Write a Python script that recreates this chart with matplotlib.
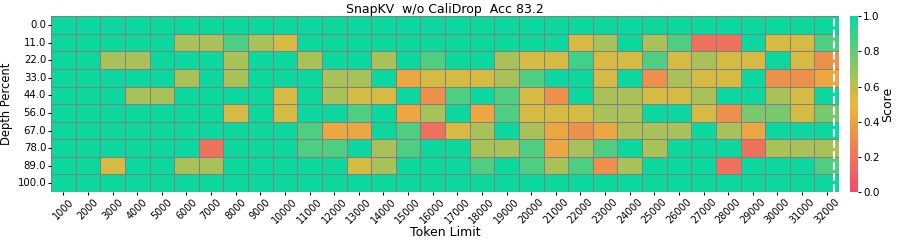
import numpy as np
import pandas as pd
import seaborn as sns
import matplotlib.pyplot as plt
from matplotlib.colors import LinearSegmentedColormap

# token limits (columns) and needle depths (rows)
token_limits = list(range(1000, 33000, 1000))
depths = [0.0, 11.0, 22.0, 33.0, 44.0, 56.0, 67.0, 78.0, 89.0, 100.0]

# scores, one list per depth row
row_0 = [1.0] * 32
row_11 = [1.0, 1.0, 1.0, 1.0, 1.0, 0.65, 0.65, 0.85, 0.65, 0.55, 1.0, 1.0, 1.0, 1.0, 1.0, 1.0,
          1.0, 1.0, 1.0, 1.0, 1.0, 0.55, 0.65, 1.0, 0.65, 0.85, 0.18, 0.18, 1.0, 0.55, 0.55, 0.85]
row_22 = [1.0, 1.0, 0.65, 0.65, 1.0, 1.0, 1.0, 0.65, 1.0, 1.0, 0.65, 1.0, 1.0, 0.65, 1.0, 0.85,
          1.0, 1.0, 0.65, 0.55, 0.55, 0.88, 0.55, 0.55, 0.85, 0.55, 0.65, 0.55, 0.55, 1.0, 0.55, 0.32]
row_33 = [1.0, 1.0, 1.0, 1.0, 1.0, 0.65, 1.0, 0.65, 1.0, 1.0, 1.0, 0.65, 0.65, 1.0, 0.42, 0.55,
          0.55, 0.55, 0.65, 0.85, 1.0, 1.0, 0.55, 1.0, 0.32, 0.65, 0.55, 0.55, 1.0, 0.32, 0.32, 0.42]
row_44 = [1.0, 1.0, 1.0, 0.65, 0.65, 1.0, 1.0, 1.0, 1.0, 0.55, 1.0, 0.65, 0.55, 0.55, 1.0, 0.32,
          0.85, 1.0, 0.85, 0.55, 0.32, 1.0, 0.65, 0.65, 0.55, 0.55, 0.65, 1.0, 1.0, 0.65, 0.55, 1.0]
row_56 = [1.0, 1.0, 1.0, 1.0, 1.0, 1.0, 1.0, 0.55, 1.0, 0.55, 1.0, 1.0, 0.85, 1.0, 0.42, 0.65,
          1.0, 0.42, 0.85, 0.55, 0.55, 0.55, 0.65, 0.65, 1.0, 1.0, 0.55, 0.32, 0.75, 0.75, 0.55, 0.75]
row_67 = [1.0, 1.0, 1.0, 1.0, 1.0, 1.0, 1.0, 1.0, 1.0, 1.0, 0.85, 0.42, 0.42, 1.0, 0.85, 0.18,
          0.55, 0.65, 1.0, 0.65, 0.42, 0.32, 0.42, 0.65, 0.65, 0.65, 1.0, 0.65, 0.42, 1.0, 1.0, 1.0]
row_78 = [1.0, 1.0, 1.0, 1.0, 1.0, 1.0, 0.18, 1.0, 1.0, 1.0, 0.85, 0.85, 1.0, 0.65, 0.85, 1.0,
          1.0, 0.65, 0.65, 0.85, 0.42, 0.65, 0.85, 1.0, 0.65, 1.0, 1.0, 1.0, 0.18, 0.65, 0.65, 0.65]
row_89 = [1.0, 1.0, 0.55, 1.0, 1.0, 0.65, 0.65, 1.0, 1.0, 1.0, 1.0, 1.0, 0.55, 0.65, 1.0, 1.0,
          1.0, 0.85, 1.0, 0.85, 0.65, 0.85, 0.32, 0.65, 1.0, 1.0, 1.0, 0.18, 1.0, 1.0, 1.0, 0.85]
row_100 = [1.0] * 32

scores = pd.DataFrame([row_0, row_11, row_22, row_33, row_44, row_56, row_67, row_78, row_89, row_100],
                      index=depths, columns=token_limits)

cmap = LinearSegmentedColormap.from_list("niah", ["#F0496E", "#EBB839", "#0CD79F"])

fig = plt.figure(figsize=(8.97, 2.41), dpi=100)
ax = fig.add_axes([0.0569, 0.203, 0.8785, 0.730])
cax = fig.add_axes([0.9476, 0.203, 0.0092, 0.730])

sns.heatmap(scores, ax=ax, cbar_ax=cax, cmap=cmap, vmin=0, vmax=1,
            linewidths=0.5, linecolor="grey")

ax.axvline(31.8, color="white", linestyle="--", linewidth=1.5)

ax.set_title("SnapKV  w/o CaliDrop  Acc 83.2", fontsize=9, pad=2)
ax.set_xlabel("Token Limit", fontsize=9, labelpad=0)
ax.set_ylabel("Depth Percent", fontsize=8.3, labelpad=3)
ax.set_xticklabels([str(t) for t in token_limits], rotation=45, fontsize=7)
ax.set_yticklabels([str(d) for d in depths], rotation=0, fontsize=7.3)
ax.tick_params(length=2.5, pad=1)

cax.yaxis.set_ticks([0.0, 0.2, 0.4, 0.6, 0.8, 1.0])
cax.tick_params(labelsize=7.5, length=2.5, pad=1)
cax.set_ylabel("Score", fontsize=9, labelpad=1)

fig.savefig("out.png", dpi=100)
